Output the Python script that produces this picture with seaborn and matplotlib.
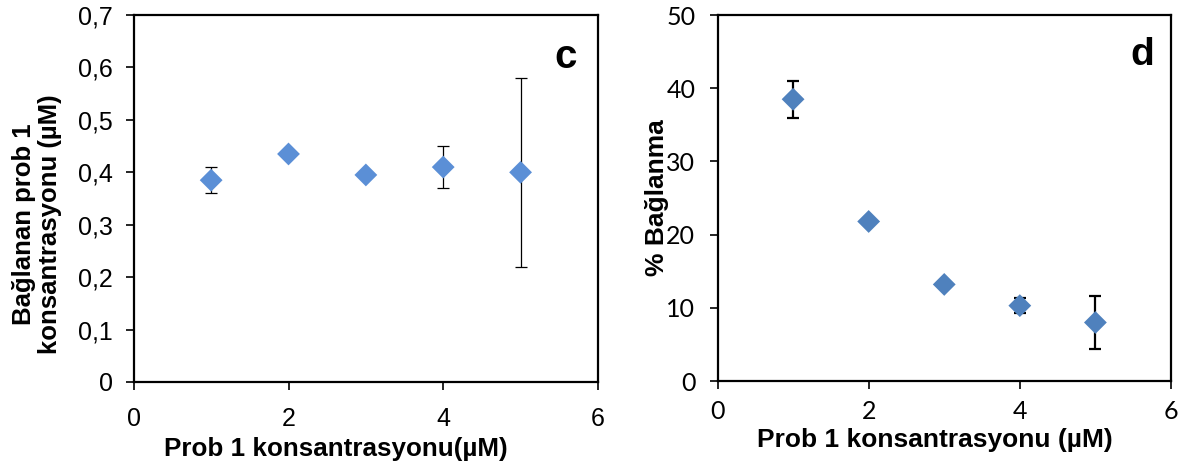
import matplotlib
matplotlib.use("Agg")
import matplotlib.pyplot as plt
import seaborn as sb
import numpy as np
import pandas as pd

# data
konsantrasyon = [1, 2, 3, 4, 5]
baglanan = [0.385, 0.435, 0.395, 0.41, 0.40]
baglanan_err = [0.025, 0.0, 0.0, 0.04, 0.18]
yuzde = [38.5, 21.8, 13.2, 10.3, 8.0]
yuzde_err = [2.5, 0.0, 0.0, 1.0, 3.6]

df = pd.DataFrame({"x": konsantrasyon, "c": baglanan, "c_err": baglanan_err,
                   "d": yuzde, "d_err": yuzde_err})

sb.set_style("white")
plt.rcParams['font.family'] = ['Liberation Sans', 'DejaVu Sans']
for k in ["text.color", "axes.labelcolor", "xtick.color", "ytick.color"]:
    plt.rcParams[k] = "black"

fig = plt.figure(figsize=(11.84, 4.71), dpi=100)
ax1 = fig.add_axes([0.113, 0.189, 0.392, 0.779])
ax2 = fig.add_axes([0.606, 0.191, 0.383, 0.777])


def draw(ax, col, color, ylim, yticks, yfmt, tickfont, ticksize, pad, xpad, elw):
    e = df[df[col + "_err"] > 0]
    ax.errorbar(e["x"], e[col], yerr=e[col + "_err"], fmt="none", ecolor="black",
                elinewidth=elw, capsize=4.2, capthick=elw, zorder=2)
    sb.scatterplot(data=df, x="x", y=col, ax=ax, marker="D", s=135, color=color,
                   edgecolor="none", zorder=3)
    ax.set_xlim(0, 6)
    ax.set_ylim(*ylim)
    ax.set_xticks([0, 2, 4, 6])
    ax.set_yticks(yticks)
    ax.set_yticklabels([yfmt(v) for v in yticks])
    for lab in ax.get_xticklabels() + ax.get_yticklabels():
        lab.set_family(tickfont)
        lab.set_fontsize(ticksize)
    ax.tick_params(direction="out", length=6, width=1.2, color="black", pad=pad,
                   bottom=True, left=True)
    ax.tick_params(axis="x", pad=xpad)
    for sp in ax.spines.values():
        sp.set_color("black")
        sp.set_linewidth(1.6)


draw(ax1, "c", "#5b8fd6", (0, 0.7), [0, 0.1, 0.2, 0.3, 0.4, 0.5, 0.6, 0.7],
     lambda v: "0" if v == 0 else ("%.1f" % v).replace(".", ","),
     ["Liberation Sans", "DejaVu Sans"], 18, 9, 12, 0.9)
draw(ax2, "d", "#4f81bd", (0, 50), [0, 10, 20, 30, 40, 50],
     lambda v: "%d" % v, ["Lato", "DejaVu Sans"], 18, 10, 8, 1.6)

ax1.set_xlabel("Prob 1 konsantrasyonu(µM)", fontsize=18.7, fontweight="bold")
ax1.set_ylabel("Bağlanan prob 1\nkonsantrasyonu (µM)", fontsize=18.5,
               fontweight="bold", linespacing=1.1)
ax1.xaxis.set_label_coords(0.435, -0.150)
ax1.yaxis.set_label_coords(-0.154, 0.43)
ax1.text(0.955, 0.856, "c", transform=ax1.transAxes, ha="right", va="baseline",
         fontsize=29, fontweight="bold")

ax2.set_xlabel("Prob 1 konsantrasyonu (µM)", fontsize=19, fontweight="bold")
ax2.set_ylabel("% Bağlanma", fontsize=19, fontweight="bold")
ax2.xaxis.set_label_coords(0.479, -0.128)
ax2.yaxis.set_label_coords(-0.108, 0.5)
ax2.text(0.962, 0.863, "d", transform=ax2.transAxes, ha="right", va="baseline",
         fontsize=28, fontweight="bold")

fig.savefig("out.png", dpi=100)
